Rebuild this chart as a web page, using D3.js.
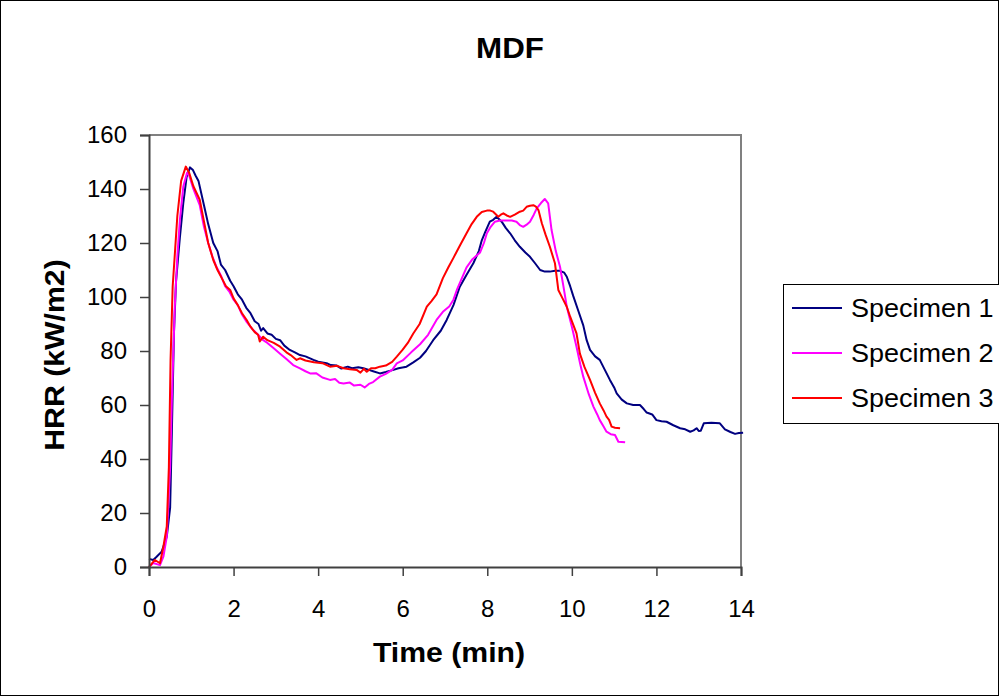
<!DOCTYPE html>
<html><head><meta charset="utf-8">
<script src="https://cdn.jsdelivr.net/npm/d3@7/dist/d3.min.js"></script>
<style>body{margin:0;background:#fff}svg{display:block;font-family:"Liberation Sans",Arial,sans-serif}</style>
</head><body><svg id="c" width="999" height="696"></svg>
<script>
const title = "MDF";
const xLabel = "Time (min)";
const yLabel = "HRR (kW/m2)";
const xTicks = [0,2,4,6,8,10,12,14];
const yTicks = [0,20,40,60,80,100,120,140,160];
const seriesNames = ["Specimen 1","Specimen 2","Specimen 3"];
const seriesColors = ["#000080","#FF00FF","#FF0000"];

const spec1 = [[0,3],[0.1,2.6],[0.18,3.8],[0.3,5.7],[0.42,11.2],[0.5,22],[0.54,49.5],[0.59,86.5],[0.64,106],[0.73,122],[0.81,134.7],[0.89,144.5],[0.97,148],[1.04,147],[1.1,145],[1.17,143],[1.3,134],[1.4,127],[1.52,120],[1.62,117],[1.7,112],[1.8,110],[1.92,106],[2.0,104],[2.1,101],[2.2,99],[2.3,96],[2.4,94],[2.5,91],[2.59,90],[2.65,87.5],[2.7,88.5],[2.8,86.5],[2.9,86],[3.0,84.5],[3.1,84],[3.2,82],[3.33,80.4],[3.45,79.5],[3.57,78.5],[3.7,78],[3.89,76.7],[4.0,76],[4.2,75.5],[4.3,74.8],[4.44,74.6],[4.55,73.5],[4.7,74.2],[4.8,73.6],[4.95,74],[5.07,73.6],[5.2,73],[5.3,72.5],[5.46,71.7],[5.6,72.2],[5.78,73],[5.9,73.6],[6.09,74.2],[6.25,75.8],[6.41,77.5],[6.55,80],[6.72,84],[6.9,87.5],[7.04,91.5],[7.2,97],[7.35,103.8],[7.5,108],[7.67,112.5],[7.8,117],[7.87,121],[7.95,124],[8.06,127.9],[8.14,128.6],[8.22,129.7],[8.34,127.9],[8.44,125.5],[8.54,123.6],[8.65,121],[8.77,118.6],[8.9,116.5],[9.01,114.9],[9.13,112.5],[9.25,110],[9.36,109.4],[9.48,109.4],[9.6,109.7],[9.72,109.7],[9.82,109],[9.88,107.5],[9.96,104],[10.03,100.5],[10.15,95],[10.27,89.5],[10.35,84],[10.43,80.4],[10.55,78],[10.66,76.7],[10.78,73],[10.9,69.3],[11.0,66.5],[11.06,64.3],[11.18,62],[11.3,60.6],[11.45,60],[11.61,60],[11.7,58.5],[11.77,57.2],[11.9,56.5],[12.0,54.4],[12.12,54],[12.24,53.8],[12.4,52.5],[12.56,51.4],[12.68,51],[12.8,50.1],[12.88,50.6],[12.95,51.4],[13.0,50.4],[13.05,50.5],[13.12,53.2],[13.3,53.4],[13.5,53.2],[13.62,51],[13.75,50],[13.86,49.3],[13.95,49.6],[14.05,49.7]];

const spec2 = [[0,0],[0.1,1.5],[0.26,0.7],[0.34,3.8],[0.42,11.2],[0.5,37],[0.54,62],[0.59,86.5],[0.61,96.4],[0.67,115],[0.73,128.5],[0.81,140.8],[0.9,146],[0.95,145],[1.05,140],[1.2,134],[1.3,126],[1.4,120],[1.5,115],[1.6,111],[1.7,108],[1.8,104],[1.9,102],[2.0,99],[2.1,97],[2.2,93.5],[2.3,91],[2.45,88],[2.55,86.5],[2.7,84],[2.8,83],[2.95,81],[3.1,79],[3.25,77],[3.41,74.8],[3.57,73.6],[3.7,72.5],[3.81,71.7],[3.95,71.8],[4.1,70.2],[4.28,69.3],[4.4,69.6],[4.5,68.2],[4.6,68],[4.75,68.3],[4.85,67.2],[5.0,67.5],[5.1,66.5],[5.2,67.8],[5.3,68.5],[5.46,70.5],[5.6,71.5],[5.75,73],[5.86,75.4],[6.0,76.5],[6.2,79.5],[6.41,82.5],[6.6,86],[6.8,91.5],[6.95,94.5],[7.1,96.5],[7.2,99],[7.28,102.6],[7.4,107],[7.51,111],[7.65,114],[7.83,116.5],[7.92,120],[7.99,123.6],[8.08,126],[8.18,127.9],[8.3,128.3],[8.46,128.3],[8.58,128.3],[8.69,127.9],[8.78,126.5],[8.85,126],[8.93,126.8],[9.01,127.9],[9.1,130.5],[9.17,132.8],[9.27,134.8],[9.36,136.3],[9.44,134.7],[9.52,124.8],[9.62,117],[9.72,111.2],[9.8,104],[9.88,96.4],[10.0,89],[10.11,81.6],[10.2,75],[10.27,70.5],[10.4,64],[10.51,59.4],[10.6,56.5],[10.66,54.4],[10.75,52],[10.82,50.1],[10.92,49.2],[11.02,48.9],[11.1,46.4],[11.26,46.2]];

const spec3 = [[0,0],[0.14,2.6],[0.26,1.4],[0.34,7.5],[0.42,15],[0.47,37],[0.51,76.7],[0.56,104],[0.62,118],[0.67,130],[0.76,143],[0.87,148.3],[0.95,146],[1.05,141],[1.2,136],[1.3,128],[1.4,120],[1.52,113.7],[1.62,110],[1.72,107],[1.82,104],[1.92,102.6],[2.0,99.5],[2.1,97],[2.2,94],[2.31,91.5],[2.4,89],[2.5,87],[2.58,86],[2.62,83.5],[2.7,85.3],[2.8,84],[2.95,83],[3.1,81.6],[3.25,79.5],[3.35,78.5],[3.49,76.7],[3.57,77.3],[3.7,76.5],[3.9,75.8],[4.1,75.5],[4.28,74.2],[4.45,74.5],[4.6,73.6],[4.75,73.2],[4.91,73],[5.0,72],[5.08,73.4],[5.15,72.3],[5.25,73.6],[5.35,73.6],[5.46,74.2],[5.6,74.6],[5.75,76],[5.86,77.9],[6.0,80.5],[6.12,83],[6.25,86.5],[6.4,90],[6.57,96.4],[6.68,98.5],[6.8,101],[6.95,107],[7.08,111],[7.2,114.5],[7.35,119],[7.51,123.6],[7.63,127],[7.75,129.7],[7.87,131.5],[7.99,132],[8.07,132],[8.14,131.6],[8.26,129.7],[8.32,130.5],[8.38,131],[8.46,130.2],[8.54,129.7],[8.65,130.5],[8.77,131.6],[8.85,132],[8.93,133.4],[9.01,133.8],[9.09,134],[9.15,133.5],[9.21,132.2],[9.29,127.3],[9.38,123],[9.48,118.6],[9.6,112.5],[9.68,102.6],[9.78,99.5],[9.88,96.4],[9.96,92.7],[10.11,86.5],[10.19,79],[10.3,74],[10.43,69.3],[10.55,64.5],[10.66,60.6],[10.75,58],[10.82,55.7],[10.88,54.5],[10.94,52],[11.02,51.6],[11.14,51.4]];

const series = [spec1, spec2, spec3];

const svg = d3.select("#c");
const W = 999, H = 696;
const L = 149, R = 741, T = 135, B = 567;
const FONT = "'Liberation Sans',Arial,sans-serif";

svg.append("rect").attr("x",0.5).attr("y",0.5).attr("width",W-1).attr("height",H-1)
  .attr("fill","#fff").attr("stroke","#000").attr("stroke-width",1);

const x = d3.scaleLinear().domain([0,14]).range([L,R]);
const y = d3.scaleLinear().domain([0,160]).range([B,T]);

svg.append("path").attr("d",`M${L},${T}H${R}V${B}`).attr("fill","none").attr("stroke","#808080").attr("stroke-width",2);

const line = d3.line().x(d=>x(d[0])).y(d=>y(d[1]));
series.forEach((s,i)=>{
  svg.append("path").datum(s).attr("d",line).attr("fill","none")
    .attr("stroke",seriesColors[i]).attr("stroke-width",2).attr("stroke-linejoin","round");
});

const xa = svg.append("g").attr("transform",`translate(0,${B})`)
  .call(d3.axisBottom(x).tickValues(xTicks).tickSize(9).tickPadding(24).tickFormat(d3.format("d")));
const ya = svg.append("g").attr("transform",`translate(${L},0)`)
  .call(d3.axisLeft(y).tickValues(yTicks).tickSize(9).tickPadding(13).tickFormat(d3.format("d")));
[xa,ya].forEach(a=>{
  a.select(".domain").attr("stroke","#404040").attr("stroke-width",2);
  a.selectAll(".tick line").attr("stroke","#404040").attr("stroke-width",1.5);
  a.selectAll(".tick text").attr("fill","#000").style("font-size","24px").style("font-family",FONT);
});

const SX = 1.08;
svg.append("text").attr("transform",`translate(510,58) scale(${SX},1)`).attr("text-anchor","middle")
  .style("font-size","29px").style("font-weight","bold").text(title);
svg.append("text").attr("transform",`translate(449,662) scale(${SX},1)`).attr("text-anchor","middle")
  .style("font-size","28px").style("font-weight","bold").text(xLabel);
svg.append("text").attr("transform",`translate(64,355) rotate(-90) scale(${SX},1)`).attr("text-anchor","middle")
  .style("font-size","28px").style("font-weight","bold").text(yLabel);

// legend
const lg = svg.append("g");
lg.append("rect").attr("x",783.5).attr("y",284.5).attr("width",240).attr("height",139)
  .attr("fill","#fff").attr("stroke","#000").attr("stroke-width",1);
seriesNames.forEach((n,i)=>{
  const base = 317 + i*45;
  lg.append("line").attr("x1",792).attr("x2",842).attr("y1",base-9).attr("y2",base-9)
    .attr("stroke",seriesColors[i]).attr("stroke-width",2);
  lg.append("text").attr("transform",`translate(851,${base}) scale(${SX},1)`).style("font-size","25px").text(n);
});
</script></body></html>
